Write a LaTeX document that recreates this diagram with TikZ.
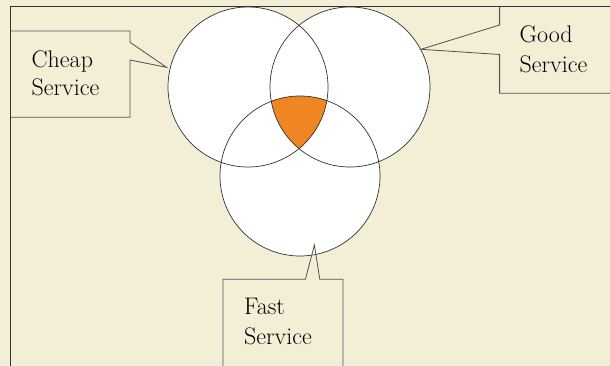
\documentclass[tikz,border=0pt]{standalone}
\definecolor{bg}{RGB}{242,239,214}
\definecolor{vorange}{RGB}{240,133,35}
\definecolor{edge}{RGB}{50,50,50}
\begin{document}
\begin{tikzpicture}[x=1pt,y=-1pt,
  venn/.style={circle,fill=white,minimum size=160pt,inner sep=0pt,outer sep=0pt},
  vennline/.style={draw=edge,line width=0.7pt},
  callout/.style={draw=edge!85,line width=0.8pt,line join=miter},
  lbl/.style={align=left,inner sep=0pt,anchor=west,text=black}]
\useasboundingbox (0,0) rectangle (610,366);
\fill[bg] (0,0) rectangle (610,366);
% frame
\coordinate (fTL) at (10.5,6.5);
\coordinate (fTR) at (610,6.5);
\coordinate (fBL) at (10.5,366);
\draw[edge,line width=0.9pt] (fTR) -- (fTL) -- (fBL);
% circles
\node[venn] (cheap) at (248,87) {};
\node[venn] (good) at (350,87) {};
\node[venn] (fast) at (300,176) {};
\begin{scope}
  \clip (cheap.center) circle[radius=80pt];
  \clip (good.center) circle[radius=80pt];
  \fill[vorange] (fast.center) circle[radius=80pt];
\end{scope}
\draw[vennline] (cheap.center) circle[radius=80pt];
\draw[vennline] (good.center) circle[radius=80pt];
\draw[vennline] (fast.center) circle[radius=80pt];
% callouts
\coordinate (cheaptip) at (166.5,67.3);
\coordinate (goodtip) at (421,49.3);
\coordinate (fasttip) at (314.4,245);
\draw[callout] (10.5,31) -- (130,31) -- (130,42.3) -- (cheaptip) -- (130,60) -- (130,117.3) -- (10.5,117.3);
\draw[callout] (499.6,7) -- (499.6,25) -- (goodtip) -- (499.6,54.5) -- (499.6,93.3) -- (612,93.3);
\draw[callout] (223,368) -- (223,279.3) -- (305.4,279.3) -- (fasttip) -- (319.8,279.3) -- (343,279.3) -- (343,368);
% labels
\node[lbl,font=\fontsize{24}{28}\selectfont] (cheaplbl) at (31.5,73.4) {Cheap\\Service};
\node[lbl,font=\fontsize{24}{30}\selectfont] (goodlbl) at (519.5,49.4) {Good\\Service};
\node[lbl,font=\fontsize{24}{30}\selectfont] (fastlbl) at (244,321.5) {Fast\\Service};
\end{tikzpicture}
\end{document}
